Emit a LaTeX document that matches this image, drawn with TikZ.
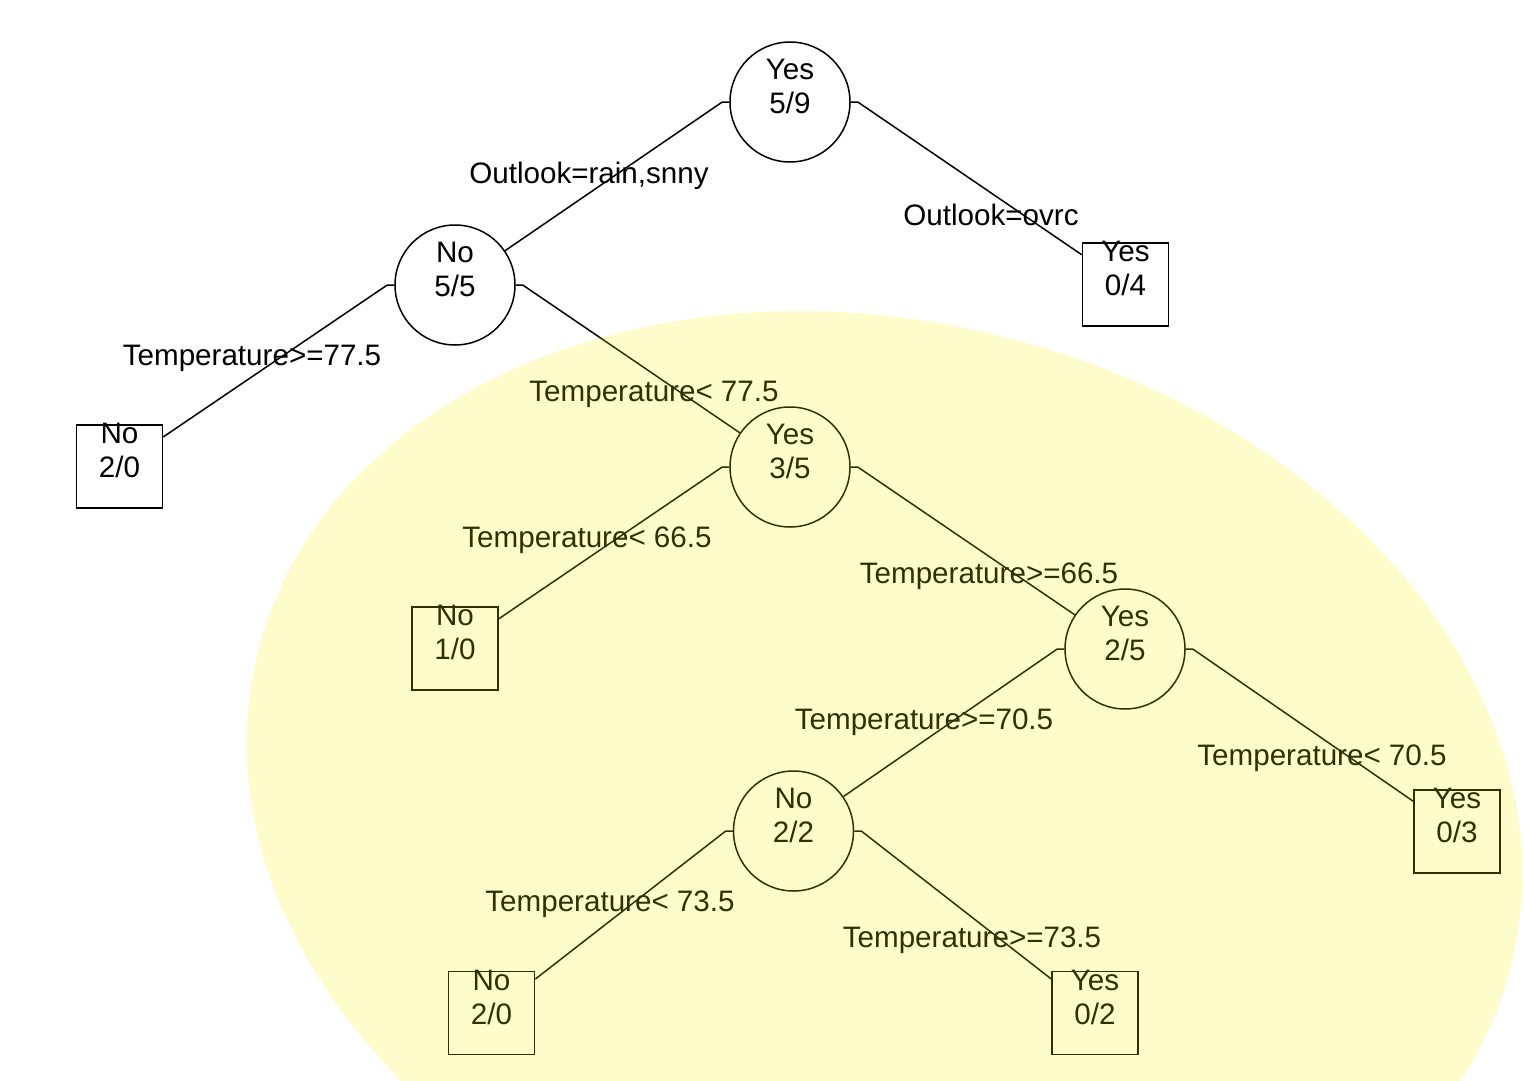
\documentclass[tikz,border=0pt]{standalone}
\usepackage{fontspec}
\setmainfont{Liberation Sans}
\usetikzlibrary{calc}
\newcommand{\treefont}{\fontsize{29.6}{34}\selectfont}
\tikzset{
	splitnode/.style={circle, draw, line width=1.5pt, minimum size=120pt, inner sep=0pt},
	leafnode/.style={rectangle, draw, line width=1.5pt, minimum width=86pt, minimum height=83pt, inner sep=0pt},
	nodetext/.style={align=center, inner sep=0pt, yshift=16pt, font=\treefont},
	edgetext/.style={inner sep=0pt, font=\treefont},
	branch/.style={line width=1.5pt}
}

\begin{document}
\begin{tikzpicture}[x=1pt, y=-1pt]
		%%%%% START %%%%%
		\useasboundingbox (0,0) rectangle (1524,1081);
		
		\node[splitnode, label={[nodetext]center:Yes\\5/9}] (yes59) at (790,102) {};
		\node[splitnode, label={[nodetext]center:No\\5/5}] (no55) at (455,285) {};
		\node[leafnode, label={[nodetext]center:Yes\\0/4}] (yes04) at (1125.5,284.5) {};
		\node[leafnode, label={[nodetext]center:No\\2/0}] (no20top) at (119.5,466.5) {};
		\node[splitnode, label={[nodetext]center:Yes\\3/5}] (yes35) at (790,467) {};
		\node[leafnode, label={[nodetext]center:No\\1/0}] (no10) at (455,648.5) {};
		\node[splitnode, label={[nodetext]center:Yes\\2/5}] (yes25) at (1125,649) {};
		\node[splitnode, label={[nodetext]center:No\\2/2}] (no22) at (793.5,831) {};
		\node[leafnode, label={[nodetext]center:Yes\\0/3}] (yes03) at (1457,831.5) {};
		\node[leafnode, label={[nodetext]center:No\\2/0}] (no20) at (491.5,1013) {};
		\node[leafnode, label={[nodetext]center:Yes\\0/2}] (yes02) at (1095,1013) {};
		
		\draw[branch] (yes59.west) -- ++(-7,0) -- (no55);
		\draw[branch] (yes59.east) -- ++(7,0) -- (yes04);
		\draw[branch] (no55.west) -- ++(-7,0) -- (no20top);
		\draw[branch] (no55.east) -- ++(7,0) -- (yes35);
		\draw[branch] (yes35.west) -- ++(-7,0) -- (no10);
		\draw[branch] (yes35.east) -- ++(7,0) -- (yes25);
		\draw[branch] (yes25.west) -- ++(-7,0) -- (no22);
		\draw[branch] (yes25.east) -- ++(7,0) -- (yes03);
		\draw[branch] (no22.west) -- ++(-7,0) -- (no20);
		\draw[branch] (no22.east) -- ++(7,0) -- (yes02);
		
		\node[edgetext] (outrainsnny) at (589,176) {Outlook=rain,snny};
		\node[edgetext] (outovrc) at (991,215) {Outlook=ovrc};
		\node[edgetext] (tempgeA) at (252,358) {Temperature>=77.5};
		\node[edgetext] (templtA) at (654,394) {Temperature< 77.5};
		\node[edgetext] (templtB) at (587,540) {Temperature< 66.5};
		\node[edgetext] (tempgeB) at (989,576) {Temperature>=66.5};
		\node[edgetext] (tempgeC) at (924,722) {Temperature>=70.5};
		\node[edgetext] (templtC) at (1322,758) {Temperature< 70.5};
		\node[edgetext] (templtD) at (610,904) {Temperature< 73.5};
		\node[edgetext] (tempgeD) at (972,940) {Temperature>=73.5};
		
		% highlight over the right subtree
		\begin{scope}
			\clip (0,0) rectangle (1524,1081);
			\fill[yellow, fill opacity=0.2, rotate around={-14:(884.5,809)}] (884.5,809) ellipse [x radius=646pt, y radius=487pt];
		\end{scope}
		%%%%% END %%%%%
	\end{tikzpicture}
\end{document}
